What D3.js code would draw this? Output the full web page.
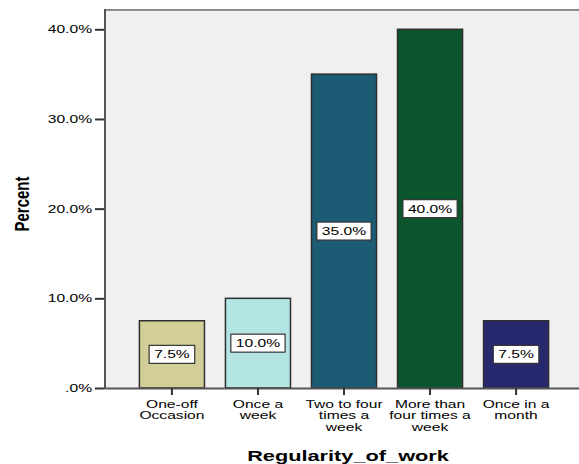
<!DOCTYPE html>
<html>
<head>
<meta charset="utf-8">
<script src="https://cdn.jsdelivr.net/npm/d3@7"></script>
<style>
  html, body { margin: 0; padding: 0; background: #fff; }
  svg { display: block; }
  text { font-family: "Liberation Sans", Arial, sans-serif; fill: #000; }
</style>
</head>
<body>
<svg id="chart" width="579" height="464"></svg>
<script>
// ---- data ----
const categories = ["One-off\nOccasion", "Once a\nweek", "Two to four\ntimes a\nweek", "More than\nfour times a\nweek", "Once in a\nmonth"];
const percents = [7.5, 10.0, 35.0, 40.0, 7.5];
const valueLabels = ["7.5%", "10.0%", "35.0%", "40.0%", "7.5%"];
const barColors = ["#d3ce98", "#b3e5e5", "#1c5b74", "#0b552d", "#27296f"];
const yTickValues = [0, 10, 20, 30, 40];
const yTickLabels = [".0%", "10.0%", "20.0%", "30.0%", "40.0%"];
const xTitle = "Regularity_of_work";
const yTitle = "Percent";

// ---- layout ----
const SX = 1.42; // horizontal stretch of glyphs
const pLeft = 105, pRight = 583, pTop = 10, pBottom = 388;
const svg = d3.select("#chart");

const x = d3.scaleBand().domain(categories).range([pLeft, pRight]).paddingInner(0.244).paddingOuter(0.4);
const y = d3.scaleLinear().domain([0, 40]).range([pBottom, 29.3]);

// plot background
svg.append("rect").attr("x", pLeft).attr("y", pTop).attr("width", pRight - pLeft).attr("height", pBottom - pTop)
  .attr("fill", "#f0f0f0");
svg.append("line").attr("x1", pLeft).attr("x2", pRight).attr("y1", pTop).attr("y2", pTop)
  .attr("stroke", "#8c8c8c").attr("stroke-width", 2);

// bars
svg.append("g").selectAll("rect").data(percents).join("rect")
  .attr("x", (d, i) => x(categories[i]))
  .attr("y", d => y(d))
  .attr("width", x.bandwidth())
  .attr("height", d => y(0) - y(d))
  .attr("fill", (d, i) => barColors[i])
  .attr("stroke", "#2e2e2e").attr("stroke-width", 1.5);

// y axis
const yAxis = svg.append("g").attr("transform", `translate(${pLeft},0)`)
  .call(d3.axisLeft(y).tickValues(yTickValues).tickFormat((d, i) => yTickLabels[i]).tickSize(10).tickSizeOuter(0));
yAxis.select(".domain").remove();
yAxis.selectAll(".tick line").attr("stroke", "#333").attr("stroke-width", 2);
yAxis.selectAll(".tick text").attr("x", -13 / SX).attr("transform", `scale(${SX},1)`)
  .style("font-size", "11px").style("font-family", "'Liberation Sans', Arial, sans-serif").attr("fill", "#111");
svg.append("line").attr("x1", pLeft).attr("x2", pLeft).attr("y1", pTop - 1).attr("y2", pBottom + 1)
  .attr("stroke", "#555").attr("stroke-width", 2);

// x axis
const xAxis = svg.append("g").attr("transform", `translate(0,${pBottom})`)
  .call(d3.axisBottom(x).tickSize(7).tickSizeOuter(0).tickFormat(""));
xAxis.select(".domain").attr("stroke", "#555").attr("stroke-width", 2);
xAxis.selectAll(".tick line").attr("stroke", "#333").attr("stroke-width", 2);

// category labels (multi-line)
categories.forEach(c => {
  const g = svg.append("g").attr("transform", `translate(${x(c) + x.bandwidth() / 2},408) scale(${SX},1)`);
  const t = g.append("text").attr("text-anchor", "middle").style("font-size", "11px").attr("fill", "#111");
  c.split("\n").forEach((line, j) => {
    t.append("tspan").attr("x", 0).attr("y", j * 11.3).text(line);
  });
});

// value labels in boxes
percents.forEach((v, i) => {
  const cx = x(categories[i]) + x.bandwidth() / 2;
  const cy = (y(v) + y(0)) / 2;
  const g = svg.append("g").attr("transform", `translate(${cx},${cy})`);
  const rect = g.append("rect").attr("fill", "#fff").attr("stroke", "#333").attr("stroke-width", 1.2);
  const t = g.append("text").attr("text-anchor", "middle").attr("dy", "0.36em")
    .attr("transform", `scale(${SX},1)`).style("font-size", "11px").attr("fill", "#111").text(valueLabels[i]);
  const w = t.node().getComputedTextLength() * SX + 10;
  rect.attr("x", -w / 2).attr("y", -9).attr("width", w).attr("height", 18);
});

// axis titles
svg.append("text").attr("transform", `translate(348,461) scale(1.45,1)`)
  .attr("text-anchor", "middle").style("font-size", "15px").style("font-weight", "bold").text(xTitle);
svg.append("text").attr("transform", `translate(29,204) scale(1.3,1) rotate(-90)`)
  .attr("text-anchor", "middle").style("font-size", "15px").style("font-weight", "bold").text(yTitle);
</script>
</body>
</html>
